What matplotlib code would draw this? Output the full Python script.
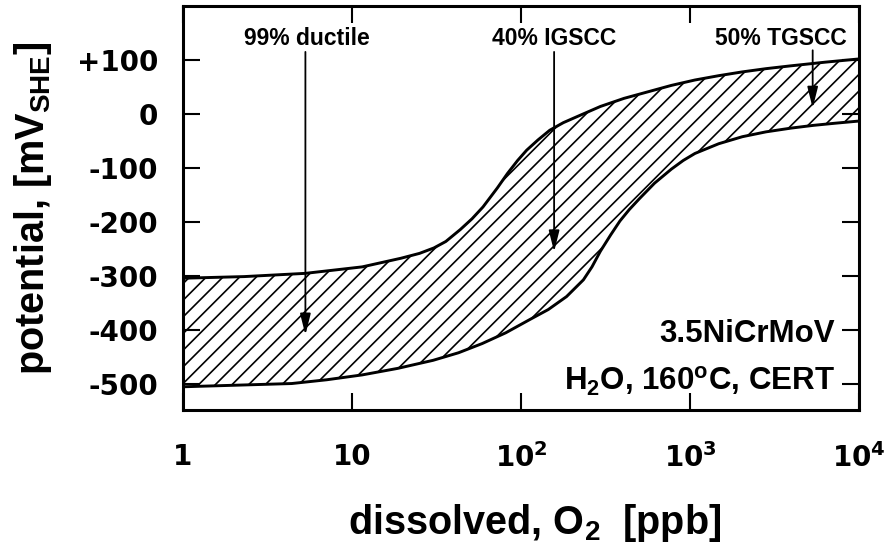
import numpy as np
import matplotlib
matplotlib.use('Agg')
import matplotlib.pyplot as plt
from matplotlib.ticker import FixedLocator, FixedFormatter, NullLocator

plt.rcParams['font.family'] = ['Liberation Sans', 'DejaVu Sans']
plt.rcParams['font.weight'] = 'bold'
plt.rcParams['mathtext.fontset'] = 'custom'
plt.rcParams['mathtext.rm'] = 'Liberation Sans:bold'
plt.rcParams['mathtext.it'] = 'Liberation Sans:bold'
plt.rcParams['mathtext.bf'] = 'Liberation Sans:bold'
plt.rcParams['hatch.linewidth'] = 1.2
plt.rcParams['axes.unicode_minus'] = False

# ---- data ----
upper_o2 = [1, 2.3, 5.3, 11.5, 19.5, 25.1, 30.5, 35.9, 43.7, 51.3, 59.6, 72.4, 83.2,
            95.5, 108, 126, 148, 178, 214, 295, 407, 562, 776, 1070, 1480, 2040, 2820,
            3890, 6310, 10000]
upper_mv = [-304, -301, -295, -283, -267, -258, -248, -236, -214, -194, -172, -137, -110,
            -86, -67, -48, -30, -16, -5, 14, 29, 41, 53, 63, 71, 78, 84,
            89, 96, 102]
lower_o2 = [1, 2.1, 4.4, 7.1, 11.5, 18.6, 30.2, 42.7, 58.9, 81.3, 112, 145, 186, 234,
            263, 295, 339, 385, 437, 501, 617, 776, 912, 1070, 1479, 2040, 2818, 3980,
            5370, 7240, 10000]
lower_mv = [-505, -502, -499, -492, -483, -471, -456, -442, -425, -405, -381, -362, -338,
            -307, -283, -254, -224, -198, -177, -157, -128, -102, -86, -73, -55, -42, -33,
            -26, -21, -17, -13]

xticks = [1, 10, 100, 1000, 10000]
xticklabels = ['1', '10', r'$\mathbf{10^2}$', r'$\mathbf{10^3}$', r'$\mathbf{10^4}$']
yticks = [100, 0, -100, -200, -300, -400, -500]
yticklabels = ['+100', '0', '-100', '-200', '-300', '-400', '-500']

ann_labels = ['99% ductile', '40% IGSCC', '50% TGSCC']
ann_text_x = [5.4, 157, 3450]
ann_arrow_x = [5.3, 157, 5320]
ann_arrow_top = [115, 115, 118]
ann_arrow_tip = [-409, -255, 11]

# ---- figure ----
fig = plt.figure(figsize=(8.94, 5.45), dpi=100)
ax = fig.add_axes([183/894, 1-410/545, 676/894, 404/545])
ax.set_xscale('log')
ax.set_xlim(1, 10000)
ax.set_ylim(-548, 200)

poly_x = np.concatenate([upper_o2, lower_o2[::-1]])
poly_y = np.concatenate([upper_mv, lower_mv[::-1]])
ax.fill(poly_x, poly_y, facecolor='none', edgecolor='black', hatch='//', linewidth=0)
ax.plot(upper_o2, upper_mv, color='black', lw=2.1, solid_joinstyle='round')
ax.plot(lower_o2, lower_mv, color='black', lw=2.1, solid_joinstyle='round')

for lab, tx, axx, top, tip in zip(ann_labels, ann_text_x, ann_arrow_x, ann_arrow_top, ann_arrow_tip):
    ax.text(tx, 128, lab, ha='center', va='baseline', fontsize=16.5, fontweight='bold')
    ax.annotate('', xy=(axx, tip), xytext=(axx, top),
                arrowprops=dict(arrowstyle='-|>,head_length=0.8,head_width=0.2',
                                lw=1.3, color='black', shrinkA=0, shrinkB=0,
                                mutation_scale=16))

ytr = ax.get_yaxis_transform()
ax.text(0.9645, -400, '3.5NiCrMoV', transform=ytr, ha='right', va='center_baseline',
        fontsize=22.5, fontweight='bold')
ax.text(0.9645, -488, r'H$_2$O, 160$^\mathrm{o}$C, CERT', transform=ytr, ha='right',
        va='center_baseline', fontsize=22.5, fontweight='bold')

ax.xaxis.set_major_locator(FixedLocator(xticks))
ax.xaxis.set_major_formatter(FixedFormatter(xticklabels))
ax.xaxis.set_minor_locator(NullLocator())
ax.yaxis.set_major_locator(FixedLocator(yticks))
ax.yaxis.set_major_formatter(FixedFormatter(yticklabels))

ax.tick_params(axis='both', which='major', direction='in', length=12, width=1.5,
               top=True, right=True, labelsize=20)
ax.tick_params(axis='x', pad=24)
ax.tick_params(axis='y', pad=18)
for lab in ax.get_xticklabels() + ax.get_yticklabels():
    lab.set_fontweight('bold')
    lab.set_fontfamily('DejaVu Sans')
    lab.set_math_fontfamily('dejavusans')
for s in ax.spines.values():
    s.set_linewidth(2.2)

ax.set_xlabel(r'dissolved, O$_2$  [ppb]', fontsize=28.5, fontweight='bold', labelpad=21)
ax.xaxis.label.set_x(0.52)
ax.set_ylabel(r'potential, [mV$_{\mathrm{SHE}}$]', fontsize=28.5, fontweight='bold', labelpad=16)

fig.savefig('out.png', dpi=100)
